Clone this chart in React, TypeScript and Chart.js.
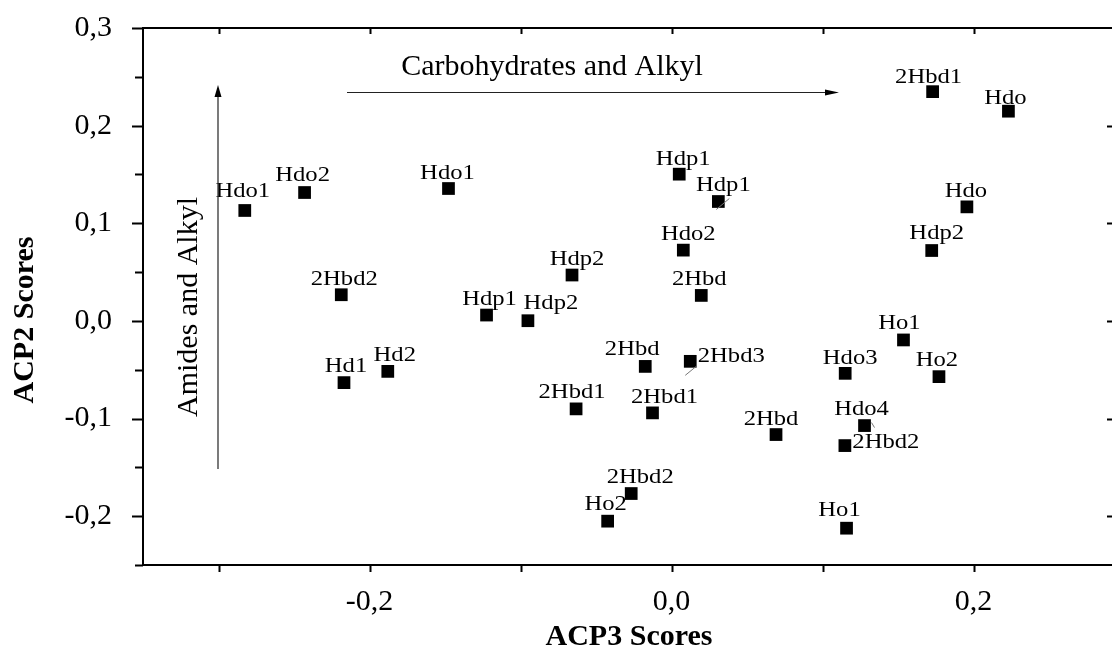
import React, { useEffect, useRef } from "react";
import { Chart, registerables } from "chart.js";

Chart.register(...registerables);

// ---- data ----
const pointNames = [
  "Hdo1", "Hdo2", "Hdo1", "2Hbd2", "Hdp1", "Hdp2", "Hd1", "Hd2", "Hdp2", "2Hbd1",
  "Hdp1", "Hdp1", "Hdo2", "2Hbd", "2Hbd", "2Hbd3", "2Hbd1", "2Hbd", "Hdo3", "Ho1",
  "Ho2", "Hdo4", "2Hbd2", "Hdo", "Hdp2", "2Hbd1", "Hdo", "Ho1", "2Hbd2", "Ho2",
];
const acp3Scores = [
  -0.2826, -0.243, -0.1477, -0.2187, -0.1225, -0.0951, -0.2169, -0.1879, -0.0659, -0.0632,
  0.0051, 0.031, 0.0078, 0.0197, -0.0174, 0.0124, -0.0126, 0.0692, 0.115, 0.1536,
  0.1771, 0.1278, 0.1148, 0.1956, 0.1723, 0.1729, 0.2231, 0.1159, -0.0267, -0.0423,
];
const acp2Scores = [
  0.1131, 0.1315, 0.1356, 0.0268, 0.006, 0.0002, -0.0632, -0.0517, 0.047, -0.0901,
  0.1503, 0.1223, 0.0725, 0.0261, -0.0466, -0.0414, -0.0942, -0.1164, -0.0537, -0.0195,
  -0.0571, -0.1072, -0.1277, 0.1168, 0.0721, 0.2348, 0.2148, -0.2123, -0.1768, -0.2051,
];
const xTickValues = [-0.2, 0, 0.2];
const yTickValues = [-0.2, -0.1, 0, 0.1, 0.2, 0.3];
const xMarkValues = [-0.3, -0.2, -0.1, 0, 0.1, 0.2];
const yMinorValues = [-0.25, -0.15, -0.05, 0.05, 0.15, 0.25];
const xTitle = "ACP3 Scores";
const yTitle = "ACP2 Scores";
const horizontalNote = "Carbohydrates and Alkyl";
const verticalNote = "Amides and Alkyl";

// ---- label layout (pixel offsets of each label from its marker) ----
const labelDx = [
  -2, -2, -1, 3, 3, 23, 2, 7, 5, -4,
  4, 5, 5, -2, -13, 41, 12, -5, 5, -4,
  -2, -3, 41, -1, 5, -4, -3, -7, 9, -2,
];
const labelDy = [
  -19, -17, -15, -16, -16, -17, -16, -16, -16, -17,
  -15, -16, -16, -16, -17, -5, -16, -15, -15, -17,
  -16, -16, -3, -16, -17, -14, -13, -18, -16, -17,
];
// tiny leader strokes: [point index, dx1, dy1, dx2, dy2] in px from the marker
const leaderStrokes = [
  [11, -2, 8, 11, -3],
  [15, -5, 14, 6, 5],
  [21, 7, -3, 10, 2],
];

const SERIF = '"Liberation Serif", "Times New Roman", serif';

const fmt = (v: number) => {
  const r = Math.round(v * 10) / 10;
  const s = Math.abs(r).toFixed(1).replace(".", ",");
  return r < 0 ? "-" + s : s;
};

const decorPlugin = {
  id: "decor",
  afterDatasetsDraw(chart: any) {
    const { ctx, chartArea: a } = chart;
    const xs = chart.scales.x;
    const ys = chart.scales.y;
    ctx.save();

    // leader strokes
    ctx.strokeStyle = "#777";
    ctx.lineWidth = 1;
    ctx.beginPath();
    leaderStrokes.forEach(([i, x1, y1, x2, y2]) => {
      const px = xs.getPixelForValue(acp3Scores[i]);
      const py = ys.getPixelForValue(acp2Scores[i]);
      ctx.moveTo(px + x1, py + y1);
      ctx.lineTo(px + x2, py + y2);
    });
    ctx.stroke();

    // point labels
    ctx.fillStyle = "#000";
    ctx.font = `22px ${SERIF}`;
    ctx.textAlign = "center";
    ctx.textBaseline = "middle";
    pointNames.forEach((name, i) => {
      const px = xs.getPixelForValue(acp3Scores[i]) + labelDx[i];
      const py = ys.getPixelForValue(acp2Scores[i]) + labelDy[i];
      ctx.save();
      ctx.translate(px, py);
      ctx.scale(1.12, 1);
      ctx.fillText(name, 0, 0);
      ctx.restore();
    });

    // frame
    ctx.strokeStyle = "#000";
    ctx.lineWidth = 2;
    ctx.strokeRect(a.left, a.top, a.right - a.left, a.bottom - a.top);

    // tick marks
    ctx.beginPath();
    xMarkValues.forEach((v) => {
      const px = Math.round(xs.getPixelForValue(v)) + 0.5;
      ctx.moveTo(px, a.bottom);
      ctx.lineTo(px, a.bottom + 7);
      ctx.moveTo(px, a.top);
      ctx.lineTo(px, a.top + 6);
    });
    yTickValues.forEach((v) => {
      const py = Math.round(ys.getPixelForValue(v)) + 0.5;
      ctx.moveTo(a.left, py);
      ctx.lineTo(a.left - 11, py);
      if (v < 0.29) {
        ctx.moveTo(a.right, py);
        ctx.lineTo(a.right - 10, py);
      }
    });
    yMinorValues.forEach((v) => {
      const py = Math.round(ys.getPixelForValue(v)) + 0.5;
      ctx.moveTo(a.left, py);
      ctx.lineTo(a.left - 8, py);
    });
    ctx.stroke();

    // horizontal arrow
    ctx.strokeStyle = "#222";
    ctx.lineWidth = 1.2;
    ctx.beginPath();
    ctx.moveTo(347, 92.5);
    ctx.lineTo(826, 92.5);
    ctx.stroke();
    ctx.fillStyle = "#000";
    ctx.beginPath();
    ctx.moveTo(839, 92.5);
    ctx.lineTo(825, 89.5);
    ctx.lineTo(825, 95.5);
    ctx.closePath();
    ctx.fill();

    // vertical arrow
    ctx.beginPath();
    ctx.moveTo(218, 469);
    ctx.lineTo(218, 94);
    ctx.stroke();
    ctx.beginPath();
    ctx.moveTo(218, 85);
    ctx.lineTo(214.5, 97);
    ctx.lineTo(221.5, 97);
    ctx.closePath();
    ctx.fill();

    // annotations
    ctx.fillStyle = "#000";
    ctx.font = `30px ${SERIF}`;
    ctx.textAlign = "center";
    ctx.textBaseline = "alphabetic";
    ctx.fillText(horizontalNote, 552, 75);
    ctx.save();
    ctx.translate(197, 307);
    ctx.rotate(-Math.PI / 2);
    ctx.fillText(verticalNote, 0, 0);
    ctx.restore();

    // axis titles
    ctx.font = `bold 30px ${SERIF}`;
    ctx.fillText(xTitle, 629, 645);
    ctx.save();
    ctx.translate(33, 320);
    ctx.rotate(-Math.PI / 2);
    ctx.fillText(yTitle, 0, 0);
    ctx.restore();

    ctx.restore();
  },
};

export default function App() {
  const canvasRef = useRef<HTMLCanvasElement | null>(null);

  useEffect(() => {
    if (!canvasRef.current) return;
    const chart = new Chart(canvasRef.current, {
      type: "scatter",
      data: {
        datasets: [
          {
            data: acp3Scores.map((v, i) => ({ x: v, y: acp2Scores[i] })),
            pointStyle: "rect",
            pointRadius: 9,
            pointHoverRadius: 9,
            backgroundColor: "#000",
            borderColor: "#000",
            borderWidth: 0,
          },
        ],
      },
      options: {
        responsive: false,
        animation: false,
        devicePixelRatio: 1,
        layout: { autoPadding: false, padding: { top: 28, left: 0, right: 0, bottom: 0 } },
        plugins: { legend: { display: false }, tooltip: { enabled: false } },
        scales: {
          x: {
            type: "linear",
            min: -0.35,
            max: 0.295,
            afterBuildTicks: (s: any) => {
              s.ticks = xTickValues.map((v) => ({ value: v }));
            },
            afterFit: (s: any) => {
              s.height = 90;
              s.paddingLeft = 0;
              s.paddingRight = 0;
              s.paddingTop = 0;
              s.paddingBottom = 0;
            },
            grid: { display: false, drawTicks: false },
            border: { display: false },
            ticks: {
              color: "#000",
              font: { family: SERIF, size: 30 },
              padding: 19,
              maxRotation: 0,
              autoSkip: false,
              callback: (v: any) => fmt(Number(v)),
            },
          },
          y: {
            type: "linear",
            min: -0.25,
            max: 0.3,
            afterBuildTicks: (s: any) => {
              s.ticks = yTickValues.map((v) => ({ value: v }));
            },
            afterFit: (s: any) => {
              s.width = 143;
              s.paddingLeft = 0;
              s.paddingRight = 0;
              s.paddingTop = 0;
              s.paddingBottom = 0;
            },
            grid: { display: false, drawTicks: false },
            border: { display: false },
            ticks: {
              color: "#000",
              font: { family: SERIF, size: 30 },
              padding: 31,
              autoSkip: false,
              callback: (v: any) => fmt(Number(v)),
            },
          },
        },
      },
      plugins: [decorPlugin],
    } as any);
    return () => chart.destroy();
  }, []);

  return (
    <div
      style={{
        position: "fixed",
        left: 0,
        top: 0,
        width: 1112,
        height: 655,
        overflow: "hidden",
        background: "#fff",
      }}
    >
      <canvas ref={canvasRef} width={1117} height={655} style={{ display: "block" }} />
    </div>
  );
}
